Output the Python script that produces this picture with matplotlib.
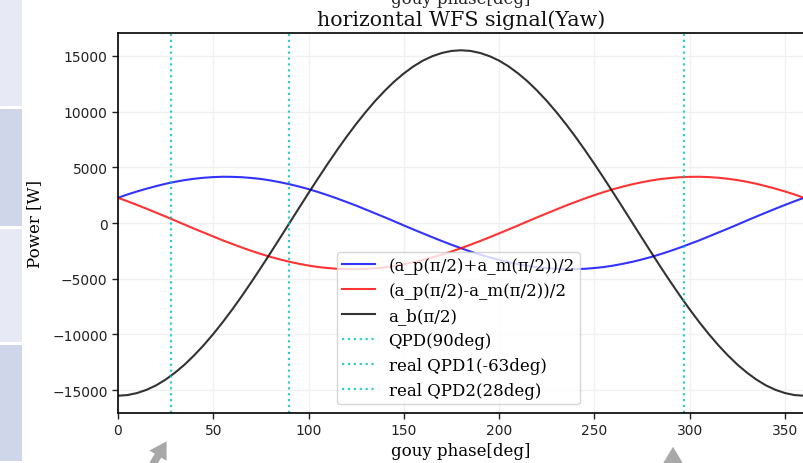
import matplotlib
matplotlib.use("Agg")
import matplotlib.pyplot as plt
from matplotlib.patches import Rectangle, FancyArrowPatch

# ---- data ----
gouy_phase = list(range(0, 361, 5))
sum_signal = [2260, 2560, 2830, 3080, 3310, 3520, 3700, 3850, 3970, 4060,
              4120, 4150, 4140, 4110, 4040, 3950, 3820, 3660, 3480, 3270,
              3040, 2780, 2500, 2200, 1880, 1560, 1210, 860, 510, 150,
              -220, -580, -930, -1280, -1620, -1950, -2260,
              -2560, -2830, -3080, -3310, -3520, -3700, -3850, -3970, -4060,
              -4120, -4150, -4140, -4110, -4040, -3950, -3820, -3660, -3480,
              -3270, -3040, -2780, -2500, -2200, -1880, -1560, -1210, -860,
              -510, -150, 220, 580, 930, 1280, 1620, 1950, 2260]
diff_signal = [2260, 1950, 1620, 1280, 930, 580, 220, -150, -510, -860,
               -1210, -1560, -1880, -2200, -2500, -2780, -3040, -3270, -3480,
               -3660, -3820, -3950, -4040, -4110, -4140, -4150, -4120, -4060,
               -3970, -3850, -3700, -3520, -3310, -3080, -2830, -2560, -2260,
               -1950, -1620, -1280, -930, -580, -220, 150, 510, 860, 1210,
               1560, 1880, 2200, 2500, 2780, 3040, 3270, 3480, 3660, 3820,
               3950, 4040, 4110, 4140, 4150, 4120, 4060, 3970, 3850, 3700,
               3520, 3310, 3080, 2830, 2560, 2260]
ab_signal = [-15500, -15440, -15260, -14970, -14570, -14050, -13420, -12700,
             -11870, -10960, -9960, -8890, -7750, -6550, -5300, -4010, -2690,
             -1350, 0, 1350, 2690, 4010, 5300, 6550, 7750, 8890, 9960, 10960,
             11870, 12700, 13420, 14050, 14570, 14970, 15260, 15440, 15500,
             15440, 15260, 14970, 14570, 14050, 13420, 12700, 11870, 10960,
             9960, 8890, 7750, 6550, 5300, 4010, 2690, 1350, 0, -1350, -2690,
             -4010, -5300, -6550, -7750, -8890, -9960, -10960, -11870, -12700,
             -13420, -14050, -14570, -14970, -15260, -15440, -15500]
series_labels = ["(a_p(\u03c0/2)+a_m(\u03c0/2))/2", "(a_p(\u03c0/2)-a_m(\u03c0/2))/2", "a_b(\u03c0/2)"]
qpd_positions = [90, 297, 28]
qpd_labels = ["QPD(90deg)", "real QPD1(-63deg)", "real QPD2(28deg)"]
x_ticks = [0, 50, 100, 150, 200, 250, 300, 350]
y_ticks = [-15000, -10000, -5000, 0, 5000, 10000, 15000]

W, H = 804, 464
fig = plt.figure(figsize=(W / 100, H / 100), dpi=100)
fig.patch.set_facecolor("white")

# left UI strip from the screenshot
strip = [(0, 107, "#e7e9f4"), (110, 227, "#cfd6ea"), (230, 343, "#e7e9f4"), (346, 462, "#cfd6ea")]
for y0, y1, c in strip:
    fig.add_artist(Rectangle((0, 1 - y1 / H), 22 / W, (y1 - y0) / H,
                             transform=fig.transFigure, facecolor=c, edgecolor="none", zorder=0))

ax = fig.add_axes([118 / W, 1 - 414 / H, (804 - 118) / W, (414 - 34) / H])

serif = "DejaVu Serif"
ax.plot(gouy_phase, sum_signal, color="b", alpha=0.8, lw=1.5, label=series_labels[0])
ax.plot(gouy_phase, diff_signal, color="r", alpha=0.8, lw=1.5, label=series_labels[1])
ax.plot(gouy_phase, ab_signal, color="k", alpha=0.8, lw=1.5, label=series_labels[2])
for xpos, lab in zip(qpd_positions, qpd_labels):
    ax.axvline(xpos, color="c", alpha=0.8, ls=":", lw=1.6, label=lab)

ax.set_xlim(0, 360)
ax.set_ylim(-17050, 17050)
ax.set_xticks(x_ticks)
ax.set_yticks(y_ticks)
ax.grid(True, color="#f0f0f0", lw=1.0)
ax.set_axisbelow(True)
for s in ax.spines.values():
    s.set_color("black")
    s.set_linewidth(1.2)
ax.tick_params(direction="out", length=4, width=1, colors="#222222", labelsize=10)

ax.set_title("horizontal WFS signal(Yaw)", fontsize=14.8, family=serif, color="#111111")
ax.set_xlabel("gouy phase[deg]", fontsize=12, family=serif, labelpad=3.5)
ax.set_ylabel("Power [W]", fontsize=12, family=serif, labelpad=6.5)

leg = ax.legend(loc="lower left", bbox_to_anchor=(0.319, 0.024), borderaxespad=0,
                prop={"family": serif, "size": 12}, handlelength=2.0, framealpha=0.8,
                borderpad=0.3, labelspacing=0.48)

# cut-off label of the panel above (it is clipped at the top edge in the reference too)
fig.text(461 / W, 1 - 4.5 / H, "gouy phase[deg]", ha="center", va="baseline",
         fontsize=12, family=serif, color="#222222")

# grey annotation arrows from the screenshot
for (x0, y0), (x1, y1) in [((150, 470), (168, 440)), ((673, 468), (673, 445))]:
    fig.add_artist(FancyArrowPatch((x0 / W, 1 - y0 / H), (x1 / W, 1 - y1 / H),
                                   transform=fig.transFigure,
                                   arrowstyle="simple,head_width=1.2,head_length=1.0,tail_width=0.45",
                                   mutation_scale=12, color="#a8a8a8", lw=0))

fig.savefig("out.png", dpi=100)
